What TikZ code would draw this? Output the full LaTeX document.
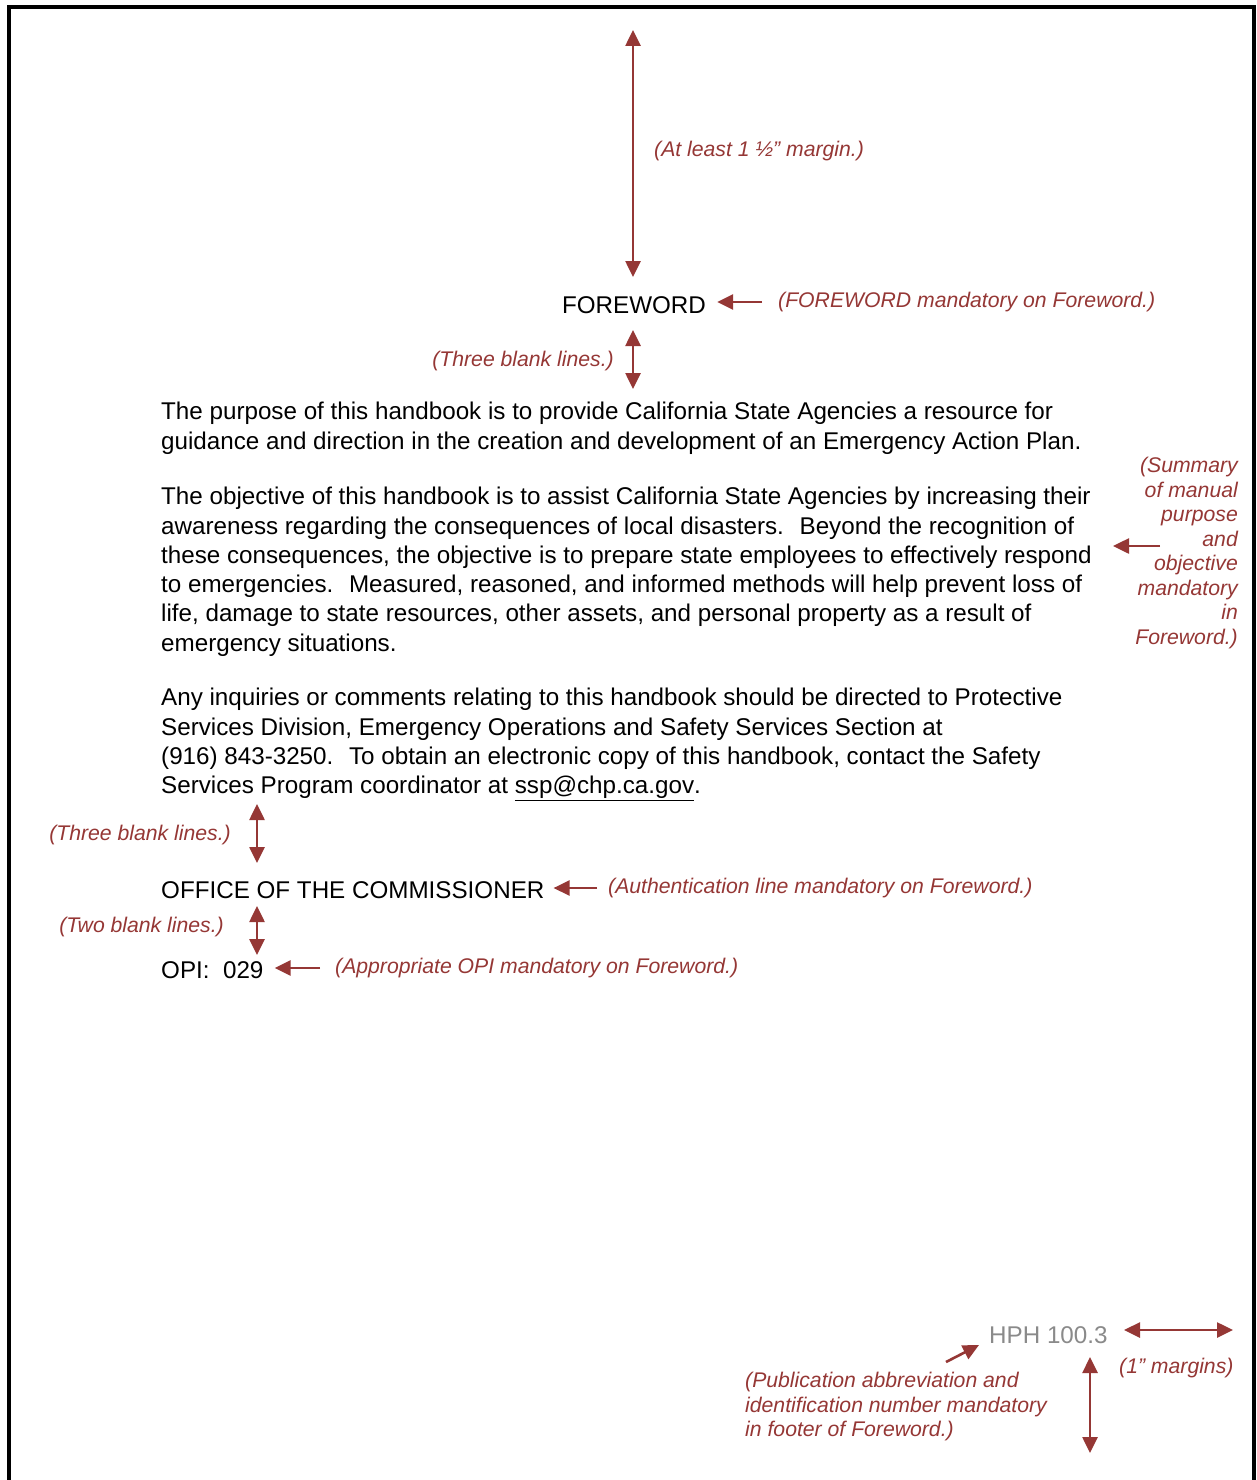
\documentclass[tikz,border=0pt]{standalone}
\usepackage{fontspec}
\setmainfont{Liberation Sans}
\usepackage{xcolor}
\usepackage{tikz}
\usetikzlibrary{arrows.meta,positioning}
\definecolor{notered}{RGB}{149,55,53}
\definecolor{footgray}{RGB}{138,138,138}

\begin{document}
\begin{tikzpicture}[x=1pt, y=-1pt,
    body/.style={anchor=north west, inner sep=0pt, align=left, font=\fontsize{24.2}{29.3}\selectfont},
    head/.style={inner sep=0pt, font=\fontsize{24.2}{29}\selectfont},
    note/.style={inner sep=0pt, text=notered, font=\fontsize{21.2}{24.5}\selectfont\itshape},
    arr/.style={-{Triangle[length=16pt, width=15pt]}, draw=notered, line width=2.6pt},
    dbl/.style={{Triangle[length=16pt, width=15pt]}-{Triangle[length=16pt, width=15pt]}, draw=notered, line width=2.6pt},
    frame/.style={line width=4.5pt, line cap=butt},
]
\useasboundingbox (0,0) rectangle (1257,1480);

% Page frame
\draw[frame] (9,1480) -- (9,7) -- (1254,7) -- (1254,1480);

% Headings and body
\node[head] (foreword) at (634,305) {FOREWORD};

\node[body] (para1) at (161,402) {The purpose of this handbook is to provide California State Agencies a resource for\\
guidance and direction in the creation and development of an Emergency Action Plan.};

\node[body] (para2) at (161,487) {The objective of this handbook is to assist California State Agencies by increasing their\\
awareness regarding the consequences of local disasters.~ Beyond the recognition of\\
these consequences, the objective is to prepare state employees to effectively respond\\
to emergencies.~ Measured, reasoned, and informed methods will help prevent loss of\\
life, damage to state resources, other assets, and personal property as a result of\\
emergency situations.};

\node[body] (para3) at (161,688) {Any inquiries or comments relating to this handbook should be directed to Protective\\
Services Division, Emergency Operations and Safety Services Section at\\
(916) 843-3250.~ To obtain an electronic copy of this handbook, contact the Safety\\
Services Program coordinator at \underline{ssp@chp.ca.gov}.};

\node[head, anchor=west] (office) at (161,890) {OFFICE OF THE COMMISSIONER};
\node[head, anchor=west] (opi) at (161,970) {OPI:~ 029};
\node[head, anchor=west, text=footgray] (hph) at (989,1335) {HPH 100.3};

% Notes
\node[note, anchor=west] (topnote) at (654,151) {(At least 1 ½” margin.)};
\node[note, anchor=west] (fwnote) at (778,302) {(FOREWORD mandatory on Foreword.)};
\node[note, anchor=east] (gap1) at (614,361) {(Three blank lines.)};
\node[note, anchor=north east, align=right] (sumnote) at (1238,457) {(Summary\\ of manual\\ purpose\\ and\\ objective\\ mandatory\\ in\\ Foreword.)};
\node[note, anchor=east] (gap2) at (231,835) {(Three blank lines.)};
\node[note, anchor=west] (authnote) at (608,888) {(Authentication line mandatory on Foreword.)};
\node[note, anchor=east] (gap3) at (224,927) {(Two blank lines.)};
\node[note, anchor=west] (opinote) at (335,968) {(Appropriate OPI mandatory on Foreword.)};
\node[note, anchor=west] (marginnote) at (1119,1368) {(1” margins)};
\node[note, anchor=north west, align=left] (pubnote) at (745,1372) {(Publication abbreviation and\\ identification number mandatory\\ in footer of Foreword.)};

% Arrow ends
\coordinate (topA) at (633,30);
\coordinate (topB) at (633,277);
\coordinate (fwA) at (633,330);
\coordinate (fwB) at (633,389);
\coordinate (sumA) at (1160,546);
\coordinate (sumB) at (1113,546);
\coordinate (offA) at (257,804);
\coordinate (offB) at (257,863);
\coordinate (opiA) at (257,906);
\coordinate (opiB) at (257,955);
\coordinate (sideL) at (1124,1330);
\coordinate (sideR) at (1233,1330);
\coordinate (footA) at (1090,1357);
\coordinate (footB) at (1090,1453);
\coordinate (pubA) at (946,1362);
\coordinate (pubB) at (979,1345);

% Arrows
\draw[dbl] (topA) -- (topB);
\draw[dbl] (fwA) -- (fwB);
\draw[dbl] (offA) -- (offB);
\draw[dbl] (opiA) -- (opiB);
\draw[arr] ([xshift=-16pt]fwnote.west) -- ([xshift=11pt]foreword.east |- fwnote.west);
\draw[arr] (sumA) -- (sumB);
\draw[arr] ([xshift=-11pt]authnote.west) -- ([xshift=9pt]office.east |- authnote.west);
\draw[arr] ([xshift=-15pt]opinote.west) -- ([xshift=11pt]opi.east |- opinote.west);
\draw[dbl] (sideL) -- (sideR);
\draw[dbl] (footA) -- (footB);
\draw[arr] (pubA) -- (pubB);

\end{tikzpicture}
\end{document}
